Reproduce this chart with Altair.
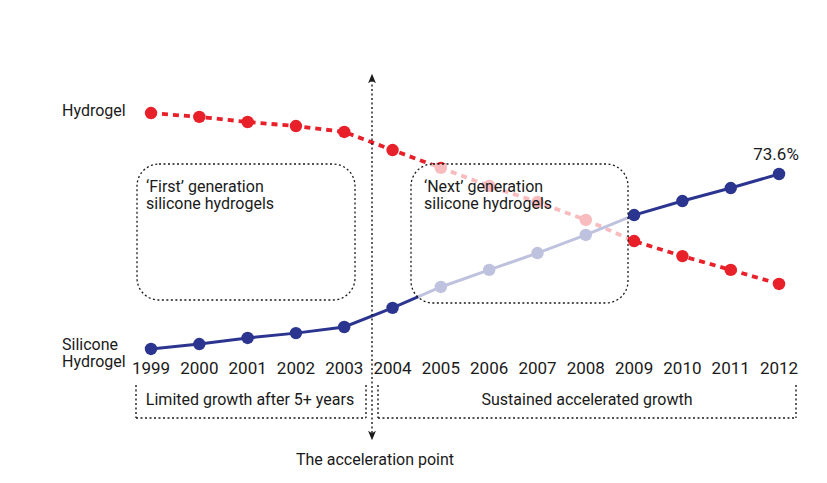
import altair as alt
import pandas as pd

# Market share of the two lens materials, by year (%)
years = list(range(1999, 2013))
hydrogel = [97.5, 96.0, 94.0, 92.4, 90.1, 83.0, 76.0, 68.9, 62.6, 55.6, 47.3, 41.4, 36.0, 30.5]
silicone = [5.0, 6.9, 9.3, 11.2, 13.6, 21.1, 29.3, 36.0, 42.6, 49.7, 57.5, 63.0, 68.1, 73.6]

W, H = 827, 483
RED = "#e8202a"
BLUE = "#2b3590"
INK = "#1a1a1a"
FONT = "Roboto"

df = pd.DataFrame({"year": years, "hydrogel": hydrogel, "silicone": silicone})

x_enc = alt.X("year:Q", scale=alt.Scale(domain=[1995.874, 2012.993], nice=False, zero=False), axis=None)


def y_enc(field):
    return alt.Y(f"{field}:Q", scale=alt.Scale(domain=[-47.58, 141.84], nice=False, zero=False), axis=None)


base = alt.Chart(df)

hyd_line = base.mark_line(color=RED, strokeWidth=3.8, strokeDash=[6, 5]).encode(x=x_enc, y=y_enc("hydrogel"))
sil_line = base.mark_line(color=BLUE, strokeWidth=3).encode(x=x_enc, y=y_enc("silicone"))
hyd_pts = base.mark_circle(color=RED, size=155, opacity=1).encode(x=x_enc, y=y_enc("hydrogel"))
sil_pts = base.mark_circle(color=BLUE, size=155, opacity=1).encode(x=x_enc, y=y_enc("silicone"))

year_labels = base.mark_text(font=FONT, fontSize=17, color=INK, baseline="middle").encode(
    x=x_enc, y=alt.value(369), text=alt.Text("year:Q", format="d")
)

end_label = (
    base.transform_filter(alt.datum.year == 2012)
    .transform_calculate(label="format(datum.silicone, '.1f') + '%'")
    .mark_text(font=FONT, fontSize=17, color=INK, dy=-19, dx=-3)
    .encode(x=x_enc, y=y_enc("silicone"), text="label:N")
)

one = alt.Data(values=[{"k": 1}])


def ann():
    return alt.Chart(one)


def box(x1, x2, y1, y2):
    return ann().mark_rect(
        fill="white", fillOpacity=0, stroke=INK, strokeWidth=1.3, strokeDash=[2, 2.5], cornerRadius=22
    ).encode(x=alt.value(x1), x2=alt.value(x2), y=alt.value(y1), y2=alt.value(y2))


def rule(x1, y1, x2, y2):
    return ann().mark_rule(color=INK, strokeWidth=1.4, strokeDash=[2, 2.5]).encode(
        x=alt.value(x1), x2=alt.value(x2), y=alt.value(y1), y2=alt.value(y2)
    )


def label(s, x, y, align="left", size=16, baseline="middle"):
    return ann().mark_text(
        font=FONT, fontSize=size, color=INK, align=align, baseline=baseline, lineHeight=17
    ).encode(x=alt.value(x), y=alt.value(y), text=alt.value(s))


# Wash over the lines inside the "next generation" box
wash = ann().mark_rect(fill="white", opacity=0.7, cornerRadius=22).encode(
    x=alt.value(411), x2=alt.value(628), y=alt.value(164), y2=alt.value(303)
)

boxes = [box(137, 355, 164, 300), box(411, 628, 164, 303)]

# Acceleration-point arrow
ax = 372
arrow_line = rule(ax, 80, ax, 434)
head_up = ann().mark_point(
    shape="M0,-1L0.75,0.8L0,0.35L-0.75,0.8Z", filled=True, color=INK, size=110, opacity=1
).encode(x=alt.value(ax), y=alt.value(79))
head_down = ann().mark_point(
    shape="M0,1L0.75,-0.8L0,-0.35L-0.75,-0.8Z", filled=True, color=INK, size=110, opacity=1
).encode(x=alt.value(ax), y=alt.value(435))

# Period brackets under the year labels
brackets = []
for left, right in [(136, 366), (378, 796)]:
    brackets += [
        rule(left, 385, left, 418),
        rule(left, 418, right, 418),
        rule(right, 385, right, 418),
    ]

texts = [
    label("Hydrogel", 62, 111),
    label(["Silicone", "Hydrogel"], 62, 337, baseline="top"),
    label(["\u2018First\u2019 generation", "silicone hydrogels"], 146, 179, baseline="top"),
    label(["\u2018Next\u2019 generation", "silicone hydrogels"], 424, 179, baseline="top"),
    label("Limited growth after 5+ years", 250, 400, align="center"),
    label("Sustained accelerated growth", 587, 400, align="center"),
    label("The acceleration point", 375, 460, align="center"),
]

chart = (
    alt.layer(
        hyd_line, sil_line, hyd_pts, sil_pts, wash, *boxes, arrow_line, head_up, head_down,
        *brackets, year_labels, end_label, *texts
    )
    .properties(width=W, height=H, autosize=alt.AutoSizeParams(type="none"), padding=0, background="white")
    .configure_view(stroke=None)
)

chart.save("out.html", embed_options={"renderer": "svg", "actions": False})
